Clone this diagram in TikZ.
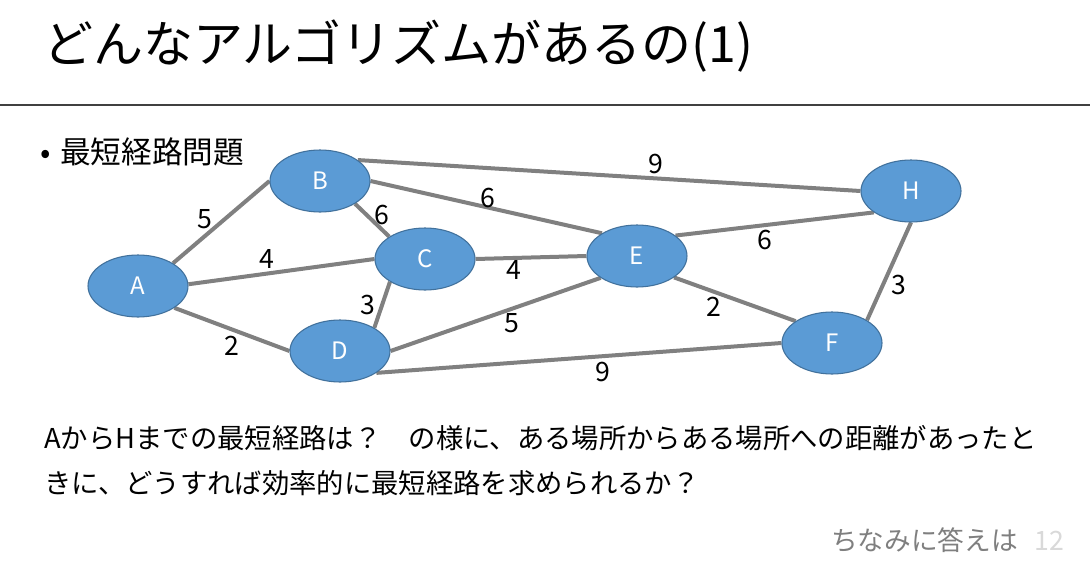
\documentclass[tikz,border=0pt]{standalone}
\usepackage{fontspec}
\setmainfont{Noto Sans CJK JP}
\usetikzlibrary{shapes.geometric}
\pgfdeclarelayer{bg}
\pgfsetlayers{bg,main}
\definecolor{nodeblue}{HTML}{5B9BD5}
\definecolor{nodeedge}{HTML}{41719C}
\definecolor{edgegray}{HTML}{808080}
\definecolor{foot}{HTML}{7F7F7F}
\definecolor{pagenum}{HTML}{D9D9D9}
\begin{document}
\begin{tikzpicture}[x=0.75pt,y=-0.75pt,
  vtx/.style={ellipse,fill=nodeblue,draw=nodeedge,line width=0.8pt,minimum width=75pt,minimum height=46.5pt,inner sep=0pt,text=white,font=\fontsize{18}{21}\selectfont},
  edge/.style={draw=edgegray,line width=3pt},
  lbl/.style={inner sep=0pt,font=\fontsize{20}{23}\selectfont},
  txt/.style={inner sep=0pt,anchor=base west}]
\useasboundingbox (0,0) rectangle (1090,575);
\begin{pgfonlayer}{bg}
\fill[white] (0,0) rectangle (1090,575);
\end{pgfonlayer}
% title
\node[txt,font=\fontsize{37.5}{42}\selectfont] (title) at (43,62) {どんなアルゴリズムがあるの(1)};
\draw[line width=1.5pt,draw=black!75] (0,105) -- (1090,105);
% bullet
\node[txt,font=\fontsize{23}{27}\selectfont] (bullet) at (40,163) {•\hspace{7pt}最短経路問題};
% vertices
\node[vtx] (A) at (138,286) {A};
\node[vtx] (B) at (320,181) {B};
\node[vtx] (C) at (425,259) {C};
\node[vtx] (D) at (340,351) {D};
\node[vtx] (E) at (637,256) {E};
\node[vtx] (H) at (911,191) {H};
\node[vtx] (F) at (832,343) {F};
% edges
\begin{pgfonlayer}{bg}
\draw[edge] (A.33) -- (B.180);
\draw[edge] (A.2) -- (C.180);
\draw[edge] (A.-31) -- (D.180);
\draw[edge] (B.-33) -- (C.148);
\draw[edge] (B.0) -- (E.147);
\draw[edge] (B.29) -- (H.180);
\draw[edge] (C.213) -- (D.34);
\draw[edge] (C.0) -- (E.180);
\draw[edge] (D.0) -- (E.211);
\draw[edge] (D.-31) -- (F.180);
\draw[edge] (E.28) -- (H.210);
\draw[edge] (E.-30) -- (F.149);
\draw[edge] (F.33) -- (H.-90);
\end{pgfonlayer}
% weights
\node[lbl] (wAB) at (205,219) {5};
\node[lbl] (wAC) at (267,259) {4};
\node[lbl] (wAD) at (232,346) {2};
\node[lbl] (wBC) at (382,215) {6};
\node[lbl] (wBE) at (488,198) {6};
\node[lbl] (wCD) at (368,305) {3};
\node[lbl] (wBH) at (656,164) {9};
\node[lbl] (wEH) at (765,240) {6};
\node[lbl] (wCE) at (514,270) {4};
\node[lbl] (wDE) at (512,323) {5};
\node[lbl] (wEF) at (714,307) {2};
\node[lbl] (wFH) at (899,285) {3};
\node[lbl] (wDF) at (603,372) {9};
% body text
\node[txt,font=\fontsize{20.5}{24}\selectfont] (line1) at (44,448) {AからHまでの最短経路は？　の様に、ある場所からある場所への距離があったと};
\node[txt,font=\fontsize{20.5}{24}\selectfont] (line2) at (44,493) {きに、どうすれば効率的に最短経路を求められるか？};
% footer
\node[txt,font=\fontsize{20}{24}\selectfont,text=foot] (ans) at (831,550) {ちなみに答えは};
\node[txt,font=\fontsize{20}{24}\selectfont,text=pagenum] (num) at (1034,550) {12};
\end{tikzpicture}
\end{document}
